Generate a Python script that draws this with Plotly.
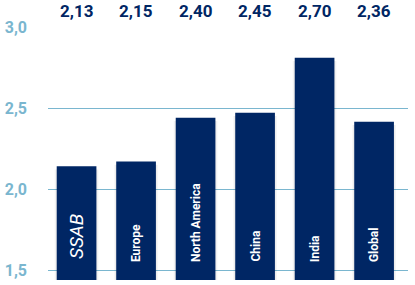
import plotly.graph_objects as go

categories = ["SSAB", "Europe", "North America", "China", "India", "Global"]
bar_values = [2.14, 2.17, 2.44, 2.47, 2.81, 2.415]
top_labels = ["2,13", "2,15", "2,40", "2,45", "2,70", "2,36"]
tick_vals = [1.5, 2.0, 2.5, 3.0]
tick_text = ["1,5", "2,0", "2,5", "3,0"]

navy = "#002664"
light_blue = "#7ab6cf"
x_idx = list(range(len(categories)))
y_min = 1.5 - 10 / 162

fig = go.Figure()
# soft shadow layers
for w, a in [(0.74, 0.03), (0.71, 0.04)]:
    fig.add_trace(go.Bar(
        x=x_idx, y=[v - y_min + 0.0 for v in bar_values], base=y_min - 0.02,
        width=w, marker=dict(color=f"rgba(0,0,0,{a})", line=dict(width=0)),
        hoverinfo="skip", showlegend=False))
fig.add_trace(go.Bar(
    x=x_idx, y=[v - y_min for v in bar_values], base=y_min,
    width=0.667, marker=dict(color=navy, line=dict(width=0)),
    showlegend=False))

annotations = []
for i, (c, lab) in enumerate(zip(categories, top_labels)):
    annotations.append(dict(
        x=i, y=1, xref="x", yref="paper", yanchor="bottom", yshift=4,
        text=f"<b>{lab}</b>", showarrow=False,
        font=dict(family="Roboto", size=17, color=navy)))
    if c == "SSAB":
        annotations.append(dict(
            x=i, y=0, xref="x", yref="paper", yanchor="bottom", yshift=19,
            text="<i>SSAB</i>", textangle=-90, showarrow=False,
            font=dict(family="Roboto", size=19, color="white")))
    else:
        annotations.append(dict(
            x=i, y=0, xref="x", yref="paper", yanchor="bottom", yshift=16,
            text=f"<b>{c}</b>", textangle=-90, showarrow=False,
            font=dict(family="Roboto", size=12, color="white")))

fig.update_layout(
    width=415, height=285,
    margin=dict(l=45, r=7, t=27, b=5),
    paper_bgcolor="white", plot_bgcolor="white",
    barmode="overlay", separators=",.",
    annotations=annotations,
    xaxis=dict(range=[-0.48, 5.57], showticklabels=False, showgrid=False,
               zeroline=False, showline=False, fixedrange=True),
    yaxis=dict(range=[y_min, 3.0], tickvals=tick_vals, ticktext=tick_text,
               showgrid=True, gridcolor=light_blue, gridwidth=1,
               zeroline=False, showline=False, ticks="", ticklabelstandoff=20,
               tickfont=dict(family="Roboto", size=16, color=light_blue, weight="bold")),
)
fig.write_html("out.html")
